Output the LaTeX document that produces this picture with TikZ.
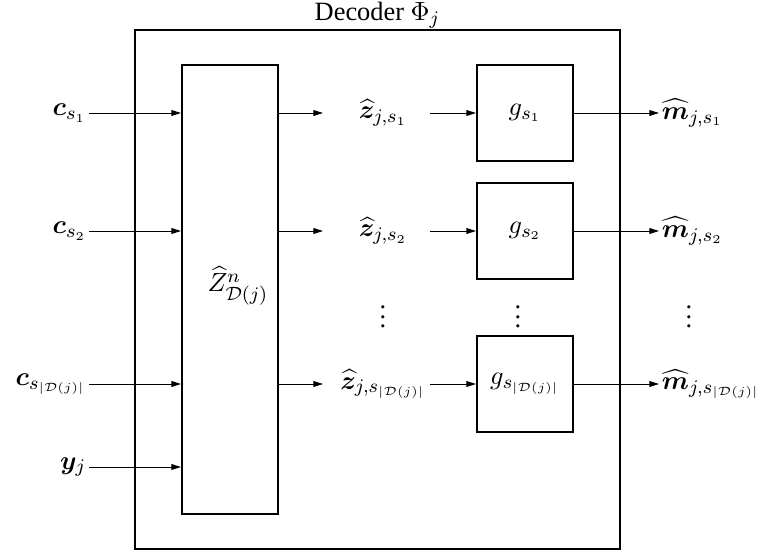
\documentclass[tikz,border=0pt]{standalone}
\usepackage{amsmath}
\usepackage{bm}
\usepackage{fontspec}
\setmainfont{Liberation Serif}
\usetikzlibrary{arrows.meta}
\tikzset{
  blk/.style={draw, line width=0.8pt, rectangle, inner sep=0pt},
  outerbox/.style={draw, line width=0.6pt, rectangle, inner sep=0pt},
  arr/.style={line width=0.4pt, -{Triangle[length=4pt,width=2.4pt]}},
  lab/.style={inner sep=1pt, font=\fontsize{11}{13}\selectfont},
}
\begin{document}
\begin{tikzpicture}[x=0.41667pt, y=-0.41667pt]
\useasboundingbox (0,0) rectangle (768,553);
\node[outerbox, minimum width={485*0.41667pt}, minimum height={519*0.41667pt}] (outer) at (377.5,289.5) {};
\node[lab, font=\fontsize{11}{13}\selectfont] (title) at (377.5,15) {Decoder $\Phi_j$};
\node[blk, minimum width={96*0.41667pt}, minimum height={449*0.41667pt}] (Z) at (230,289.5) {};
\node[lab] (Zl) at (238,286) {$\widehat{Z}^n_{\mathcal{D}(j)}$};
\node[blk, minimum width={96*0.41667pt}, minimum height={96*0.41667pt}] (g1) at (525,113) {};
\node[blk, minimum width={96*0.41667pt}, minimum height={96*0.41667pt}] (g2) at (525,231) {};
\node[blk, minimum width={96*0.41667pt}, minimum height={96*0.41667pt}] (g3) at (525,384) {};
\node[lab] at (g1) {$g_{s_1}$};
\node[lab] at (g2) {$g_{s_2}$};
\node[lab] at (g3) {$g_{s_{|\mathcal{D}(j)|}}$};
% inputs
\node[lab, anchor=east] (c1) at (89,113) {$\bm{c}_{s_1}$};
\node[lab, anchor=east] (c2) at (89,231) {$\bm{c}_{s_2}$};
\node[lab, anchor=east] (c3) at (89,384) {$\bm{c}_{s_{|\mathcal{D}(j)|}}$};
\node[lab, anchor=east] (yj) at (89,467) {$\bm{y}_j$};
\draw[arr] (c1.east) -- (c1.east -| Z.west);
\draw[arr] (c2.east) -- (c2.east -| Z.west);
\draw[arr] (c3.east) -- (c3.east -| Z.west);
\draw[arr] (yj.east) -- (yj.east -| Z.west);
% z hats
\node[lab] (z1) at (383,113) {$\widehat{\bm{z}}_{j,s_1}$};
\node[lab] (z2) at (383,231) {$\widehat{\bm{z}}_{j,s_2}$};
\node[lab] (z3) at (383,384) {$\widehat{\bm{z}}_{j,s_{|\mathcal{D}(j)|}}$};
\coordinate (ze1) at (323,113);
\coordinate (ze2) at (323,231);
\coordinate (ze3) at (323,384);
\coordinate (gs1) at (430,113);
\coordinate (gs2) at (430,231);
\coordinate (gs3) at (430,384);
\draw[arr] (Z.east |- ze1) -- (ze1);
\draw[arr] (Z.east |- ze2) -- (ze2);
\draw[arr] (Z.east |- ze3) -- (ze3);
\draw[arr] (gs1) -- (g1.west);
\draw[arr] (gs2) -- (g2.west);
\draw[arr] (gs3) -- (g3.west);
% m hats
\node[lab, anchor=west] (m1) at (659,113) {$\widehat{\bm{m}}_{j,s_1}$};
\node[lab, anchor=west] (m2) at (659,231) {$\widehat{\bm{m}}_{j,s_2}$};
\node[lab, anchor=west] (m3) at (659,384) {$\widehat{\bm{m}}_{j,s_{|\mathcal{D}(j)|}}$};
\draw[arr] (g1.east) -- (m1.west);
\draw[arr] (g2.east) -- (m2.west);
\draw[arr] (g3.east) -- (m3.west);
% dots
\node[lab] (d1) at (383,310) {$\vdots$};
\node[lab] (d2) at (518,310) {$\vdots$};
\node[lab] (d3) at (689,310) {$\vdots$};
\end{tikzpicture}
\end{document}
